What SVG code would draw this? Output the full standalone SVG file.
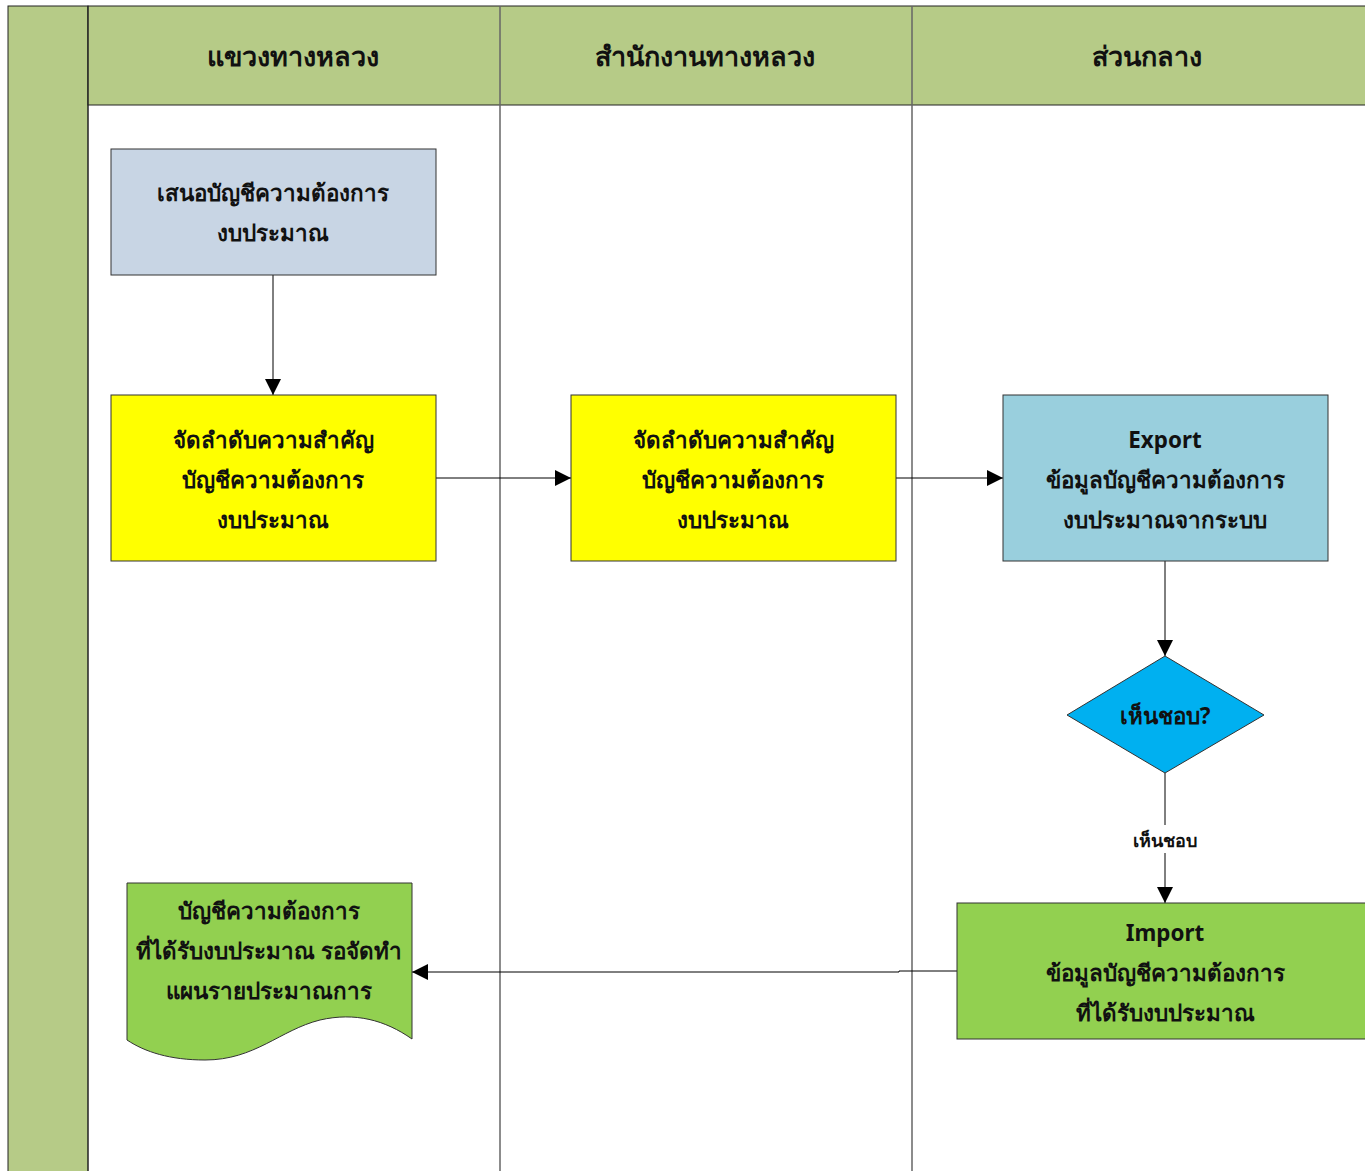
<svg xmlns="http://www.w3.org/2000/svg" width="1365" height="1171" viewBox="0 0 1365 1171">
<defs>
<marker id="arr" viewBox="0 0 10 10" refX="10" refY="5" markerWidth="16" markerHeight="16" markerUnits="userSpaceOnUse" orient="auto">
<path d="M0,0 L10,5 L0,10 Z" fill="#000"/>
</marker>
<style>
text{font-family:"Noto Sans","DejaVu Sans",sans-serif;font-weight:bold;fill:#111;text-anchor:middle}
.hdr{font-size:27px}
.t{font-size:22.4px}
.node{stroke:#333;stroke-width:1}
.lane{stroke:#666;stroke-width:1.5;fill:none}
.conn{stroke:#000;stroke-width:1;fill:none}
</style>
</defs>
<rect width="1365" height="1171" fill="#fff"/>
<g id="pool">
<rect x="8" y="6" width="80" height="1170" fill="#b6cb87" stroke="#222" stroke-width="1"/>
<rect x="88" y="6" width="1280" height="99" fill="#b6cb87" stroke="#222" stroke-width="1"/>
<line class="lane" x1="500" y1="6" x2="500" y2="1171"/>
<line class="lane" x1="912" y1="6" x2="912" y2="1171"/>
<line x1="88" y1="6" x2="88" y2="1171" stroke="#222" stroke-width="1"/>
<text class="hdr" x="293" y="66">แขวงทางหลวง</text>
<text class="hdr" x="705" y="66">สำนักงานทางหลวง</text>
<text class="hdr" x="1147" y="66">ส่วนกลาง</text>
</g>
<g id="connectors">
<line class="conn" x1="273" y1="275" x2="273" y2="395" marker-end="url(#arr)"/>
<line class="conn" x1="436" y1="478" x2="571" y2="478" marker-end="url(#arr)"/>
<line class="conn" x1="896" y1="478" x2="1003" y2="478" marker-end="url(#arr)"/>
<line class="conn" x1="1165" y1="561" x2="1165" y2="656" marker-end="url(#arr)"/>
<line class="conn" x1="1165" y1="773" x2="1165" y2="825"/>
<line class="conn" x1="1165" y1="853" x2="1165" y2="903" marker-end="url(#arr)"/>
<path class="conn" d="M957,971 H899 V972 H412" marker-end="url(#arr)"/>
<text x="1165" y="847" style="font-size:18px">เห็นชอบ</text>
</g>
<g id="n1">
<rect class="node" x="111" y="149" width="325" height="126" fill="#c8d5e4"/>
<text class="t" x="273" y="201">เสนอบัญชีความต้องการ</text>
<text class="t" x="273" y="241">งบประมาณ</text>
</g>
<g id="n2">
<rect class="node" x="111" y="395" width="325" height="166" fill="#ffff00"/>
<text class="t" x="273" y="448">จัดลำดับความสำคัญ</text>
<text class="t" x="273" y="488">บัญชีความต้องการ</text>
<text class="t" x="273" y="528">งบประมาณ</text>
</g>
<g id="n3">
<rect class="node" x="571" y="395" width="325" height="166" fill="#ffff00"/>
<text class="t" x="733" y="448">จัดลำดับความสำคัญ</text>
<text class="t" x="733" y="488">บัญชีความต้องการ</text>
<text class="t" x="733" y="528">งบประมาณ</text>
</g>
<g id="n4">
<rect class="node" x="1003" y="395" width="325" height="166" fill="#99cfdd"/>
<text class="t" x="1165" y="448">Export</text>
<text class="t" x="1165" y="488">ข้อมูลบัญชีความต้องการ</text>
<text class="t" x="1165" y="528">งบประมาณจากระบบ</text>
</g>
<g id="n5">
<polygon class="node" points="1165,656 1264,715 1165,773 1067,715" fill="#00b0f0"/>
<text class="t" x="1165" y="724">เห็นชอบ?</text>
</g>
<g id="n6">
<rect class="node" x="957" y="903" width="415" height="136" fill="#92d050"/>
<text class="t" x="1165" y="941">Import</text>
<text class="t" x="1165" y="981">ข้อมูลบัญชีความต้องการ</text>
<text class="t" x="1165" y="1021">ที่ได้รับงบประมาณ</text>
</g>
<g id="n7">
<path class="node" d="M127,883 H412 V1039 C385,1020 355,1012 320,1020 C280,1030 255,1060 205,1060 C170,1060 145,1052 127,1040 Z" fill="#92d050"/>
<text class="t" x="269" y="919">บัญชีความต้องการ</text>
<text class="t" x="269" y="959">ที่ได้รับงบประมาณ รอจัดทำ</text>
<text class="t" x="269" y="999">แผนรายประมาณการ</text>
</g>
</svg>
